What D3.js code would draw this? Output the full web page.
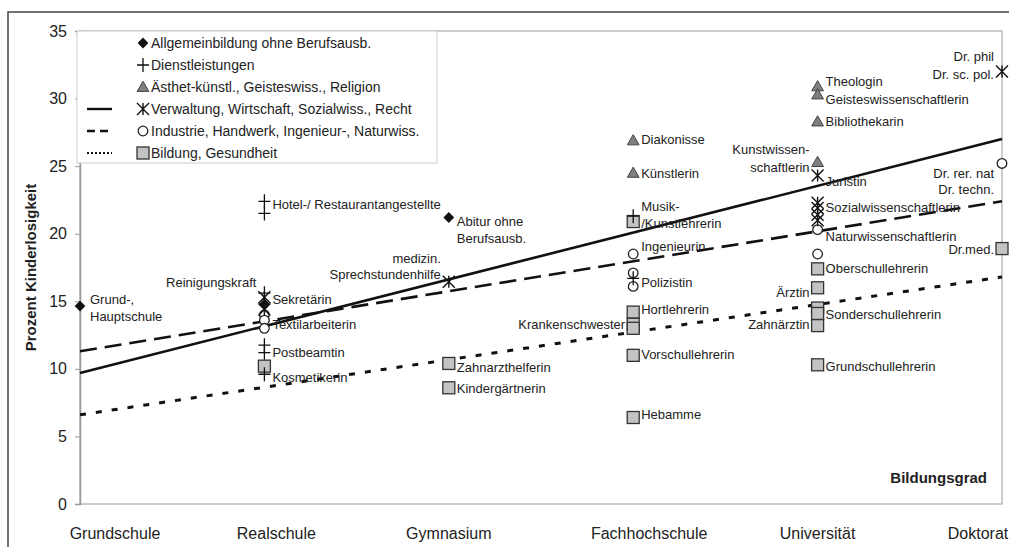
<!DOCTYPE html>
<html>
<head>
<meta charset="utf-8">
<script src="https://cdn.jsdelivr.net/npm/d3@7"></script>
<style>
  body { margin: 0; background: #fff; }
  svg { display: block; font-family: "Liberation Sans", Arial, sans-serif; }
</style>
</head>
<body>
<svg id="chart" width="1009" height="547"></svg>
<script>
// Education levels on the x axis
const categories = ['Grundschule', 'Realschule', 'Gymnasium', 'Fachhochschule', 'Universität', 'Doktorat'];
const yTicks = [0, 5, 10, 15, 20, 25, 30, 35];

// Occupation groups (legend order)
const groups = [
  { key: 'allg', name: 'Allgemeinbildung ohne Berufsausb.' },
  { key: 'dienst', name: 'Dienstleistungen' },
  { key: 'kunst', name: 'Ästhet-künstl., Geisteswiss., Religion' },
  { key: 'verw', name: 'Verwaltung, Wirtschaft, Sozialwiss., Recht' },
  { key: 'ind', name: 'Industrie, Handwerk, Ingenieur-, Naturwiss.' },
  { key: 'bild', name: 'Bildung, Gesundheit' }
];

// points per group: [category index, percent childless]
const allgPoints = [[0, 14.65], [1, 14.8], [2, 21.2]];
const dienstPoints = [[1, 22.4], [1, 21.5], [1, 15.6], [1, 11.75], [1, 11.2], [1, 9.6], [3, 21.3], [3, 16.7]];
const kunstPoints = [[3, 26.9], [3, 24.5], [4, 30.9], [4, 30.3], [4, 28.3], [4, 25.3]];
const verwPoints = [[1, 15.3], [1, 14.4], [2, 16.45], [4, 24.3], [4, 22.3], [4, 21.9], [4, 21.4], [4, 21.0], [5, 32.0]];
const indPoints = [[1, 14.0], [1, 13.6], [1, 13.0], [3, 18.5], [3, 17.1], [3, 16.1], [4, 20.3], [4, 18.5], [5, 25.2]];
const bildPoints = [[1, 10.2], [2, 10.4], [2, 8.6], [3, 20.9], [3, 14.2], [3, 13.3], [3, 13.0], [3, 11.0], [3, 6.4],
  [4, 17.4], [4, 16.0], [4, 14.5], [4, 14.1], [4, 13.2], [4, 10.3], [5, 18.9]];

// regression lines: value at Grundschule and at Doktorat
const verwTrend = [9.7, 27.0];
const indTrend = [11.3, 22.4];
const bildTrend = [6.6, 16.8];

// occupation labels: [category index, value of text line, text]
const labelsRight = [
  [0, 15.17, 'Grund-,'], [0, 13.9, 'Hauptschule'],
  [1, 22.13, 'Hotel-/ Restaurantangestellte'], [1, 15.1, 'Sekretärin'], [1, 13.25, 'Textilarbeiterin'],
  [1, 11.25, 'Postbeamtin'], [1, 9.4, 'Kosmetikerin'],
  [2, 20.94, 'Abitur ohne'], [2, 19.68, 'Berufsausb.'], [2, 10.14, 'Zahnarzthelferin'], [2, 8.58, 'Kindergärtnerin'],
  [3, 26.94, 'Diakonisse'], [3, 24.49, 'Künstlerin'], [3, 22.05, 'Musik-'], [3, 20.79, '/Kunstlehrerin'],
  [3, 19.09, 'Ingenieurin'], [3, 16.43, 'Polizistin'], [3, 14.43, 'Hortlehrerin'], [3, 11.03, 'Vorschullehrerin'],
  [3, 6.59, 'Hebamme'],
  [4, 31.23, 'Theologin'], [4, 29.97, 'Geisteswissenschaftlerin'], [4, 28.34, 'Bibliothekarin'], [4, 23.9, 'Juristin'],
  [4, 21.98, 'Sozialwissenschaftlerin'], [4, 19.83, 'Naturwissenschaftlerin'], [4, 17.46, 'Oberschullehrerin'],
  [4, 13.99, 'Sonderschullehrerin'], [4, 10.21, 'Grundschullehrerin']
];
const labelsLeft = [
  [1, 16.43, 'Reinigungskraft'], [2, 18.2, 'medizin.'], [2, 16.95, 'Sprechstundenhilfe'],
  [3, 13.25, 'Krankenschwester'], [4, 26.2, 'Kunstwissen-'], [4, 24.94, 'schaftlerin'],
  [4, 15.69, 'Ärztin'], [4, 13.25, 'Zahnärztin'],
  [5, 33.08, 'Dr. phil'], [5, 31.82, 'Dr. sc. pol.'], [5, 24.49, 'Dr. rer. nat'], [5, 23.24, 'Dr. techn.'],
  [5, 18.87, 'Dr.med.']
];

const svg = d3.select('#chart');
const margin = { left: 80, right: 7, top: 31, bottom: 43 };
const W = 1009, H = 547;

const x = d3.scaleLinear().domain([0, categories.length - 1]).range([margin.left, W - margin.right]);
const y = d3.scaleLinear().domain([0, 35]).range([H - margin.bottom, margin.top]);

// outer frame
svg.append('rect').attr('x', 8).attr('y', 12).attr('width', 1020).attr('height', 560)
  .attr('fill', 'none').attr('stroke', '#444').attr('stroke-width', 1.5);

// plot frame
svg.append('rect').attr('x', x(0)).attr('y', y(35)).attr('width', x(5) - x(0)).attr('height', y(0) - y(35))
  .attr('fill', 'none').attr('stroke', '#aaa').attr('stroke-width', 1.2);

// y axis
const yAxis = svg.append('g').attr('transform', `translate(${x(0)},0)`)
  .call(d3.axisLeft(y).tickValues(yTicks).tickSize(5).tickPadding(8));
yAxis.select('.domain').attr('stroke', '#999').attr('stroke-width', 1.5);
yAxis.selectAll('line').attr('stroke', '#999');
yAxis.selectAll('text').attr('font-size', 16).attr('fill', '#222')
  .attr('font-family', '"Liberation Sans", Arial, sans-serif');

svg.append('text')
  .attr('transform', `translate(36,${(y(0) + y(35)) / 2}) rotate(-90)`)
  .attr('text-anchor', 'middle').attr('font-size', 15).attr('font-weight', 'bold').attr('fill', '#222')
  .text('Prozent Kinderlosigkeit');

// x category labels (placed loosely like the original text boxes)
const xLabelShift = [35, 12, 0, 16, 0, -24];
svg.append('g').selectAll('text').data(categories).enter().append('text')
  .attr('x', (d, i) => x(i) + xLabelShift[i])
  .attr('y', 539)
  .attr('text-anchor', 'middle').attr('font-size', 16).attr('fill', '#222')
  .text(d => d);

svg.append('text').attr('x', 987).attr('y', 483).attr('text-anchor', 'end')
  .attr('font-size', 15).attr('font-weight', 'bold').attr('fill', '#222').text('Bildungsgrad');

// trend lines
const trendStyles = [
  { data: verwTrend, dash: null, width: 2.6 },
  { data: indTrend, dash: '17,8', width: 2.6 },
  { data: bildTrend, dash: '6,10', width: 3 }
];
const line = d3.line().x(d => x(d[0])).y(d => y(d[1]));
trendStyles.forEach(t => {
  svg.append('path')
    .datum([[0, t.data[0]], [5, t.data[1]]])
    .attr('d', line)
    .attr('fill', 'none').attr('stroke', '#111').attr('stroke-width', t.width)
    .attr('stroke-dasharray', t.dash);
});

// marker drawing
function drawMarker(g, key, cx, cy) {
  if (key === 'allg') {
    g.append('path').attr('d', d3.symbol(d3.symbolSquare, 58)()).attr('transform', `translate(${cx},${cy}) rotate(45)`)
      .attr('fill', '#111');
  } else if (key === 'dienst') {
    g.append('path').attr('d', `M${cx - 6},${cy}H${cx + 6}M${cx},${cy - 7}V${cy + 7}`)
      .attr('stroke', '#111').attr('stroke-width', 1.3).attr('fill', 'none');
  } else if (key === 'kunst') {
    g.append('path').attr('d', d3.symbol(d3.symbolTriangle, 60)()).attr('transform', `translate(${cx},${cy + 1})`)
      .attr('fill', '#7f7f7f').attr('stroke', '#444').attr('stroke-width', 1);
  } else if (key === 'verw') {
    g.append('path').attr('d', `M${cx - 6},${cy - 6}L${cx + 6},${cy + 6}M${cx + 6},${cy - 6}L${cx - 6},${cy + 6}M${cx},${cy - 6}V${cy + 6}`)
      .attr('stroke', '#111').attr('stroke-width', 1.4).attr('fill', 'none');
  } else if (key === 'ind') {
    g.append('circle').attr('cx', cx).attr('cy', cy).attr('r', 4.8)
      .attr('fill', '#fff').attr('stroke', '#222').attr('stroke-width', 1.3);
  } else if (key === 'bild') {
    g.append('rect').attr('x', cx - 6).attr('y', cy - 6).attr('width', 12).attr('height', 12)
      .attr('fill', '#c3c3c3').attr('stroke', '#333').attr('stroke-width', 1.3);
  }
}

const pointSets = { allg: allgPoints, dienst: dienstPoints, kunst: kunstPoints, verw: verwPoints, ind: indPoints, bild: bildPoints };
const marks = svg.append('g');
['bild', 'ind', 'kunst', 'verw', 'dienst', 'allg'].forEach(k => {
  pointSets[k].forEach(p => drawMarker(marks, k, x(p[0]), y(p[1])));
});

// occupation labels
const lab = svg.append('g').attr('font-size', 13).attr('fill', '#222');
lab.selectAll('text.r').data(labelsRight).enter().append('text')
  .attr('x', d => x(d[0]) + (d[0] === 0 ? 10 : 8))
  .attr('y', d => y(d[1]))
  .attr('dy', '0.35em')
  .text(d => d[2]);
lab.selectAll('text.l').data(labelsLeft).enter().append('text')
  .attr('x', d => x(d[0]) - 8)
  .attr('y', d => y(d[1]))
  .attr('dy', '0.35em')
  .attr('text-anchor', 'end')
  .text(d => d[2]);

// legend
const legend = svg.append('g');
legend.append('rect').attr('x', 77).attr('y', 31).attr('width', 360).attr('height', 132)
  .attr('fill', '#fff').attr('stroke', '#ccc').attr('stroke-width', 1);
groups.forEach((gr, i) => {
  const ly = 43 + i * 22;
  drawMarker(legend, gr.key, 143, ly);
  legend.append('text').attr('x', 151).attr('y', ly).attr('dy', '0.35em')
    .attr('font-size', 14).attr('fill', '#222').text(gr.name);
});
trendStyles.forEach((t, i) => {
  const ly = 109 + i * 22;
  legend.append('line').attr('x1', 87).attr('x2', 112).attr('y1', ly).attr('y2', ly)
    .attr('stroke', '#111').attr('stroke-width', i === 2 ? 2 : 2.4)
    .attr('stroke-dasharray', i === 0 ? null : (i === 1 ? '8,5' : '2,2'));
});
</script>
</body>
</html>
